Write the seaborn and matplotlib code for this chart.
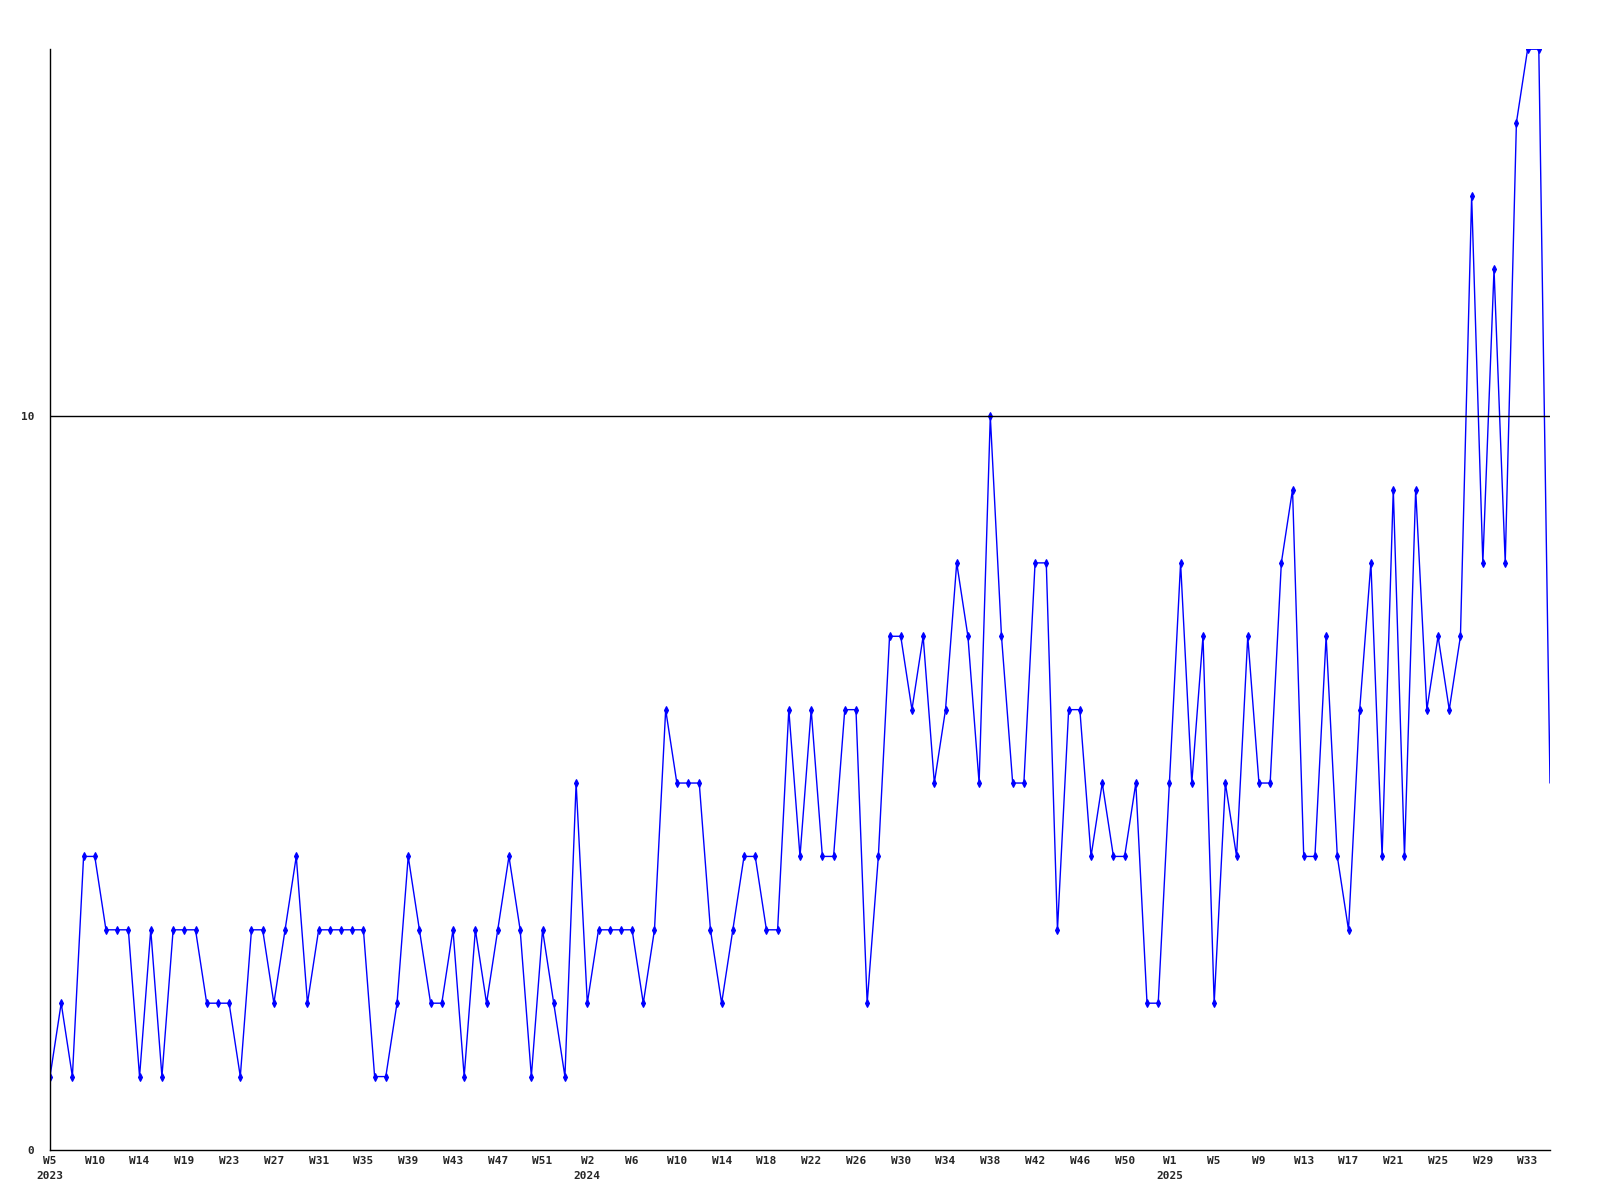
import numpy as np
import pandas as pd
import matplotlib
matplotlib.use('Agg')
import matplotlib.pyplot as plt
import seaborn as sns

# weekly counts (2023 W5 .. 2025 W34)
values = [
    1, 2, 1, 4, 4, 3, 3, 3, 1, 3,
    1, 3, 3, 3, 2, 2, 2, 1, 3, 3,
    2, 3, 4, 2, 3, 3, 3, 3, 3, 1,
    1, 2, 4, 3, 2, 2, 3, 1, 3, 2,
    3, 4, 3, 1, 3, 2, 1, 5, 2, 3,
    3, 3, 3, 2, 3, 6, 5, 5, 5, 3,
    2, 3, 4, 4, 3, 3, 6, 4, 6, 4,
    4, 6, 6, 2, 4, 7, 7, 6, 7, 5,
    6, 8, 7, 5, 10, 7, 5, 5, 8, 8,
    3, 6, 6, 4, 5, 4, 4, 5, 2, 2,
    5, 8, 5, 7, 2, 5, 4, 7, 5, 5,
    8, 9, 4, 4, 7, 4, 3, 6, 8, 4,
    9, 4, 9, 6, 7, 6, 7, 13, 8, 12,
    8, 14, 15, 15, 5,
]

# x tick labels, one every 4 points
week_labels = [
    'W5', 'W10', 'W14', 'W19', 'W23', 'W27', 'W31', 'W35', 'W39', 'W43', 'W47', 'W51',
    'W2', 'W6', 'W10', 'W14', 'W18', 'W22', 'W26', 'W30', 'W34', 'W38', 'W42', 'W46', 'W50',
    'W1', 'W5', 'W9', 'W13', 'W17', 'W21', 'W25', 'W29', 'W33',
]
year_labels = {0: '2023', 12: '2024', 25: '2025'}

df = pd.DataFrame({'idx': np.arange(len(values)), 'value': values})

sns.set_theme(style='white')
plt.rcParams['font.family'] = ['DejaVu Sans Mono']
plt.rcParams['font.weight'] = 'bold'

fig = plt.figure(figsize=(16, 12), dpi=100)
ax = fig.add_axes([0.03125, 0.0417, 0.9375, 0.9173])

# the last (partial) week is drawn without a marker
sns.lineplot(data=df, x='idx', y='value', color='#0000ff', linewidth=1.0,
             marker='d', markersize=4, markeredgewidth=0.8,
             markeredgecolor='#0000ff', markerfacecolor='#0000ff',
             markevery=list(range(len(values) - 1)), ax=ax)

ax.axhline(10, color='black', linewidth=1)

ax.set_xlim(0, len(values) - 1)
ax.set_ylim(0, 15)

ticks = list(range(0, 4 * len(week_labels), 4))
labels = []
for i, w in enumerate(week_labels):
    labels.append(w + '\n' + year_labels[i] if i in year_labels else w)
ax.set_xticks(ticks)
ax.set_xticklabels(labels, fontsize=8, fontweight='bold', linespacing=1.7)
ax.set_yticks([0, 10])
ax.set_yticklabels(['0', '10'], fontsize=8, fontweight='bold')
ax.tick_params(axis='both', length=0)
ax.tick_params(axis='y', pad=11.5)
ax.tick_params(axis='x', pad=4)

ax.set_xlabel('')
ax.set_ylabel('')
for s in ['top', 'right']:
    ax.spines[s].set_visible(False)
for s in ['left', 'bottom']:
    ax.spines[s].set_color('black')
    ax.spines[s].set_linewidth(1)

plt.savefig('out.png', dpi=100)
